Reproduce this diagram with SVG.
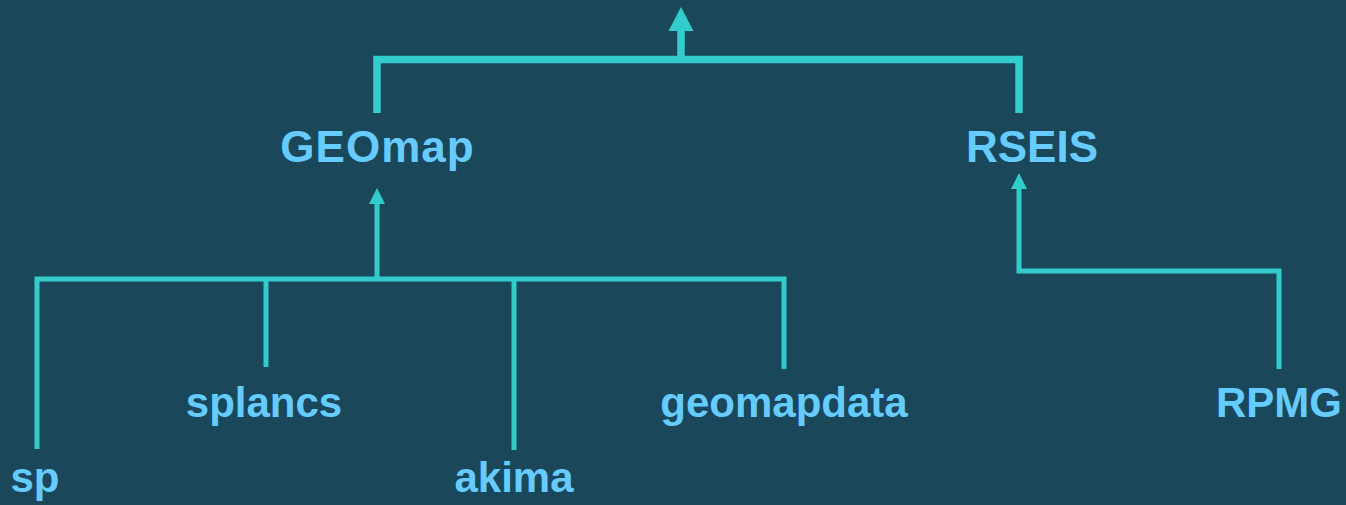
<svg xmlns="http://www.w3.org/2000/svg" width="1346" height="505" viewBox="0 0 1346 505">
<style>
.lbl{font-family:"Liberation Sans",Arial,sans-serif;font-weight:bold;font-size:44px;fill:#66ccff;text-anchor:middle}
.sm{font-size:42px}
.ln{fill:none;stroke:#33cccc;stroke-linejoin:miter;stroke-linecap:butt}
.thick{stroke-width:7.5}
.thin{stroke-width:5}
.head{fill:#33cccc}
</style>
<rect x="0" y="0" width="1346" height="505" fill="#1b475b"/>
<g id="connectors">
  <path class="ln thick" d="M377,113 V59.5 H1019 V113"/>
  <path class="ln thick" d="M681,59.5 V30"/>
  <polygon class="head" points="681,7 668.5,31 693.5,31"/>
  <path class="ln thin" d="M37,449 V279 H784 V369"/>
  <path class="ln thin" d="M266,367 V279"/>
  <path class="ln thin" d="M514,450 V279"/>
  <path class="ln thin" d="M377,279 V203"/>
  <polygon class="head" points="377,188 369,204 385,204"/>
  <path class="ln thin" d="M1279,369 V271 H1019 V188"/>
  <polygon class="head" points="1019,173 1011,189 1027,189"/>
</g>
<g id="GEOmap"><text class="lbl" x="377.5" y="162" font-size="46" letter-spacing="1">GEOmap</text></g>
<g id="RSEIS"><text class="lbl" x="1032" y="162">RSEIS</text></g>
<g id="splancs"><text class="lbl sm" x="264" y="417">splancs</text></g>
<g id="geomapdata"><text class="lbl sm" x="784" y="417">geomapdata</text></g>
<g id="RPMG"><text class="lbl sm" x="1279" y="417">RPMG</text></g>
<g id="sp"><text class="lbl sm" x="35" y="492">sp</text></g>
<g id="akima"><text class="lbl sm" x="514" y="492">akima</text></g>
</svg>
